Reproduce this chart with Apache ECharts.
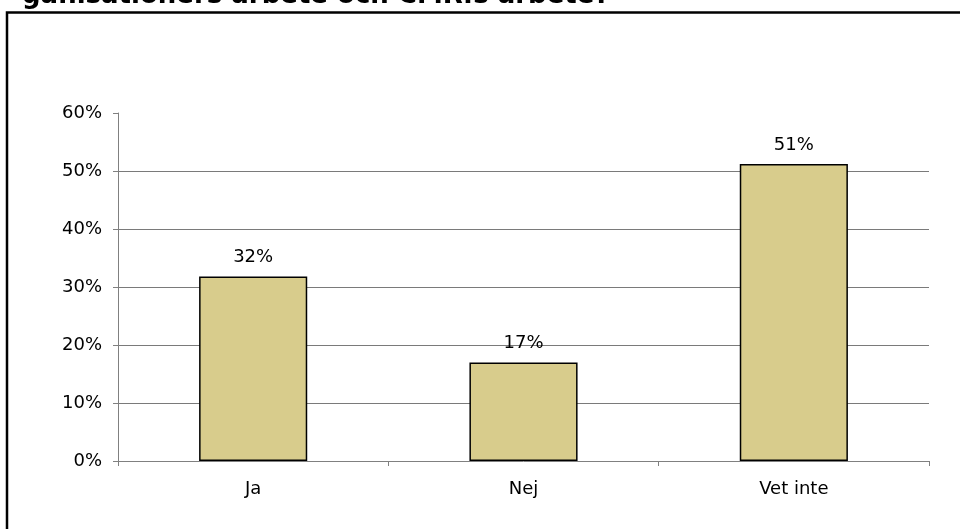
<!DOCTYPE html>
<html>
<head>
<meta charset="utf-8">
<script src="https://cdn.jsdelivr.net/npm/echarts@6/dist/echarts.min.js"></script>
<style>
html,body{margin:0;padding:0;background:#fff;}
#chart{width:960px;height:529px;}
</style>
</head>
<body>
<div id="chart"></div>
<script>
const titleText = 'ganisationers arbete och CMR:s arbete?';
const categories = ['Ja', 'Nej', 'Vet inte'];
const values = [31.8, 17.0, 51.2];
const yTicks = [0, 10, 20, 30, 40, 50, 60];

const font = 'DejaVu Sans';
const chart = echarts.init(document.getElementById('chart'), null, {renderer: 'canvas'});
chart.setOption({
  animation: false,
  backgroundColor: '#ffffff',
  graphic: [
    {
      type: 'rect',
      shape: {x: 7, y: 12.5, width: 1000, height: 600},
      style: {fill: 'none', stroke: '#000000', lineWidth: 2.5},
      silent: true
    },
    {
      type: 'text',
      x: 22, y: 9,
      style: {
        text: titleText,
        fontFamily: font,
        fontWeight: 'bold',
        fontSize: 26,
        fill: '#000000',
        verticalAlign: 'bottom',
        align: 'left'
      },
      silent: true
    }
  ],
  grid: {left: 118, right: 31, top: 113, bottom: 68, containLabel: false},
  xAxis: {
    type: 'category',
    data: categories,
    axisLine: {show: true, lineStyle: {color: '#808080', width: 1}},
    axisTick: {show: true, length: 5, alignWithLabel: false, lineStyle: {color: '#808080'}},
    axisLabel: {color: '#000000', fontFamily: font, fontSize: 18, margin: 19},
    splitLine: {show: false}
  },
  yAxis: {
    type: 'value',
    min: yTicks[0],
    max: yTicks[yTicks.length - 1],
    interval: 10,
    axisLine: {show: true, lineStyle: {color: '#808080', width: 1}},
    axisTick: {show: true, length: 5, lineStyle: {color: '#808080'}},
    axisLabel: {color: '#000000', fontFamily: font, fontSize: 18, margin: 16, formatter: v => v + '%'},
    splitLine: {show: true, showMinLine: false, showMaxLine: false, lineStyle: {color: '#7a7a7a', width: 1.2}}
  },
  series: [{
    type: 'bar',
    data: values,
    barWidth: '40%',
    itemStyle: {color: '#D8CC8C', borderColor: '#000000', borderWidth: 1.5},
    label: {
      show: true,
      position: 'top',
      distance: 10,
      color: '#000000',
      fontFamily: font,
      fontSize: 18,
      formatter: p => Math.round(p.value) + '%'
    }
  }]
});
</script>
</body>
</html>
